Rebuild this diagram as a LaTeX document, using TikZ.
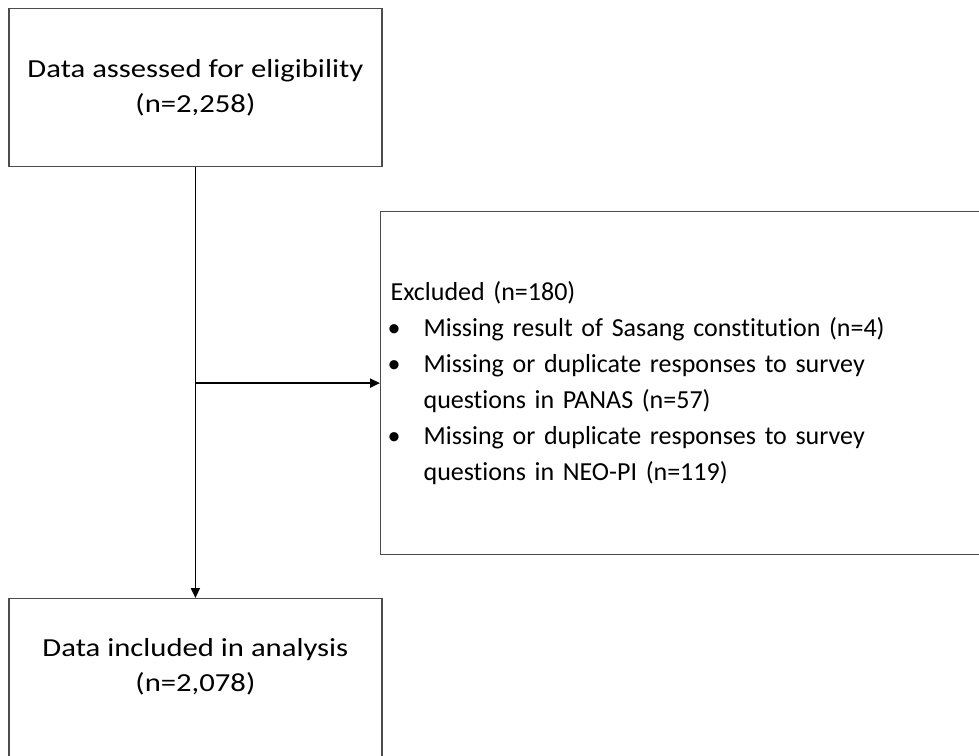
\documentclass[tikz,border=0pt]{standalone}
\usepackage{fontspec}
\setmainfont{Carlito}[Ligatures=NoCommon]
\newfontfamily\wideface{Carlito}[FakeStretch=1.18, Ligatures=NoCommon]
\usepackage{tikz}
\tikzset{
  box_font/.style = {font=\wideface\fontsize{26}{35}\selectfont},
  side_font/.style = {font=\fontsize{26}{36}\selectfont},
  box_line/.style = {draw=black!70, line width=1.2pt}
}
\tikzset{
  box/.style = {box_font, box_line, align=center, inner sep=0pt},
  side_box/.style = {side_font, box_line, align=left, inner xsep=10pt, inner ysep=0pt},
  flow/.style = {line width=1.8pt, -{Triangle[length=10pt,width=9pt]}}
}
\newcommand{\bulletrow}{\makebox[33pt][l]{\hspace{-3pt}\textbullet}}
\newcommand{\bulletgap}{\hspace*{33pt}}
\usetikzlibrary{arrows.meta, positioning, calc}

\begin{document}
\begin{tikzpicture}[x=1pt, y=-1pt, node distance=0]
        \useasboundingbox (0,0) rectangle (979,755);
        \clip (0,0) rectangle (979,755);

        % Boxes
        \node[box, anchor=north west, minimum width=373, minimum height=158] at (8.3,7.7) (assessed) {
            Data assessed for eligibility\\
            (n=2,258)
            };
        \node[side_box, anchor=north west, text width=600, minimum height=343] at (380,211) (excluded) {
            Excluded (n=180)\\
            \bulletrow Missing result of Sasang constitution (n=4)\\
            \bulletrow Missing or duplicate responses to survey\\
            \bulletgap questions in PANAS (n=57)\\
            \bulletrow Missing or duplicate responses to survey\\
            \bulletgap questions in NEO-PI (n=119)
            };
        \node[box, anchor=north west, minimum width=373, minimum height=164] at (8.3,598) (included) {
            Data included in analysis\\
            (n=2,078)\\[-4pt]
            };

        % Arrows
        \coordinate (branch) at (excluded.west -| assessed.south);
        \draw[flow] (assessed.south) -- (included.north);
        \draw[flow] (branch) -- (excluded.west);
\end{tikzpicture}
\end{document}
